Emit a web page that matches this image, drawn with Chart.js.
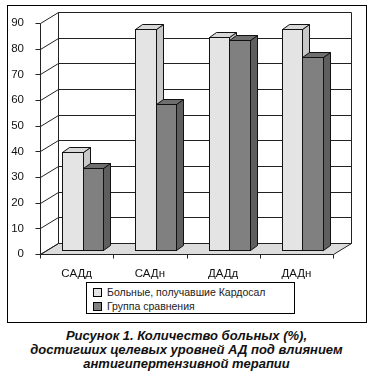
<!DOCTYPE html>
<html>
<head>
<meta charset="utf-8">
<script src="https://cdn.jsdelivr.net/npm/chart.js@4.4.0/dist/chart.umd.min.js"></script>
<style>
  body { margin: 0; background: #fff; width: 373px; height: 374px; position: relative; overflow: hidden; font-family: "Liberation Sans", Arial, sans-serif; }
  #frame { position: absolute; left: 7px; top: 5px; width: 358px; height: 316px; border: 1px solid #000; }
  #chart { position: absolute; left: 0; top: 0; }
  #legend { position: absolute; left: 86px; top: 282px; width: 207px; height: 30px; border: 1px solid #000; font-size: 10.5px; color: #222; }
  #legend div { position: absolute; left: 6px; height: 12px; line-height: 12px; white-space: nowrap; }
  #legend span { display: inline-block; width: 9px; height: 9px; border: 1px solid #000; box-sizing: border-box; vertical-align: -1px; margin-right: 5px; }
  #caption { position: absolute; left: 0; top: 329px; width: 373px; text-align: center; font: italic bold 13px/14px "Liberation Sans", Arial, sans-serif; color: #111; }
</style>
</head>
<body>
<div id="frame"></div>
<canvas id="chart" width="373" height="280"></canvas>
<div id="legend"></div>
<div id="caption">Рисунок 1. Количество больных (%),<br>достигших целевых уровней АД под влиянием<br>антигипертензивной терапии</div>
<script>
// ---- Data ----
const categories = ['САДд', 'САДн', 'ДАДд', 'ДАДн'];
const kardosal = [38, 86, 83, 86];
const comparison = [32, 57, 82, 75];
const seriesNames = ['Больные, получавшие Кардосал', 'Группа сравнения'];
const yTicks = [0, 10, 20, 30, 40, 50, 60, 70, 80, 90];

// front / top / side shades per series
const shades = [
  { front: '#e4e4e4', top: '#d8d8d8', side: '#c8c8c8' },
  { front: '#808080', top: '#6e6e6e', side: '#5e5e5e' }
];
const DEPTH = { x: 18, y: -11 };   // wall depth
const BAR_OFF = { x: 6, y: -4 };   // bars sit mid-depth
const BAR_D = { x: 7, y: -5 };     // bar thickness

// ---- 3D walls, floor, gridlines ----
const walls3d = {
  id: 'walls3d',
  beforeDatasetsDraw(chart) {
    const { ctx, chartArea: a, scales: { y } } = chart;
    ctx.save();
    ctx.lineWidth = 1;
    ctx.strokeStyle = '#222';
    const L = Math.round(a.left) + 0.5, R = Math.round(a.right) + 0.5;
    const B = Math.round(y.getPixelForValue(0)) + 0.5, T = Math.round(y.getPixelForValue(90)) + 0.5;
    // floor
    ctx.fillStyle = '#dcdcdc';
    ctx.beginPath();
    ctx.moveTo(L, B); ctx.lineTo(R, B); ctx.lineTo(R + DEPTH.x, B + DEPTH.y); ctx.lineTo(L + DEPTH.x, B + DEPTH.y); ctx.closePath();
    ctx.fill(); ctx.stroke();
    // back wall edges
    ctx.beginPath();
    ctx.moveTo(L + DEPTH.x, B + DEPTH.y); ctx.lineTo(L + DEPTH.x, T + DEPTH.y);
    ctx.moveTo(R + DEPTH.x, B + DEPTH.y); ctx.lineTo(R + DEPTH.x, T + DEPTH.y);
    ctx.stroke();
    // gridlines
    yTicks.forEach(v => {
      const py = Math.round(y.getPixelForValue(v)) + 0.5;
      ctx.beginPath();
      ctx.moveTo(L - 5, py); ctx.lineTo(L, py);
      ctx.lineTo(L + DEPTH.x, py + DEPTH.y);
      ctx.lineTo(R + DEPTH.x, py + DEPTH.y);
      ctx.stroke();
    });
    // front axis line
    ctx.beginPath();
    ctx.moveTo(L, T); ctx.lineTo(L, B);
    ctx.stroke();
    // x ticks at category boundaries
    ctx.beginPath();
    for (let i = 0; i <= categories.length; i++) {
      const px = Math.round(a.left + (a.right - a.left) * i / categories.length) + 0.5;
      ctx.moveTo(px, B); ctx.lineTo(px, B + 4);
    }
    ctx.stroke();
    ctx.restore();
  },
  afterDatasetsDraw(chart) {
    const { ctx } = chart;
    ctx.save();
    ctx.translate(BAR_OFF.x, BAR_OFF.y);
    ctx.lineWidth = 1;
    ctx.strokeStyle = '#111';
    chart.data.datasets.forEach((ds, di) => {
      const meta = chart.getDatasetMeta(di);
      const s = shades[di];
      meta.data.forEach(bar => {
        const l = Math.round(bar.x - bar.width / 2) + 0.5;
        const r = Math.round(bar.x + bar.width / 2) + 0.5;
        const t = Math.round(bar.y) + 0.5;
        const b = Math.round(bar.base) + 0.5;
        // side
        ctx.fillStyle = s.side;
        ctx.beginPath();
        ctx.moveTo(r, b); ctx.lineTo(r + BAR_D.x, b + BAR_D.y); ctx.lineTo(r + BAR_D.x, t + BAR_D.y); ctx.lineTo(r, t); ctx.closePath();
        ctx.fill(); ctx.stroke();
        // top
        ctx.fillStyle = s.top;
        ctx.beginPath();
        ctx.moveTo(l, t); ctx.lineTo(l + BAR_D.x, t + BAR_D.y); ctx.lineTo(r + BAR_D.x, t + BAR_D.y); ctx.lineTo(r, t); ctx.closePath();
        ctx.fill(); ctx.stroke();
        // front
        ctx.fillStyle = s.front;
        ctx.fillRect(l, t, r - l, b - t);
        ctx.strokeRect(l, t, r - l, b - t);
      });
    });
    ctx.restore();
  }
};

const chart = new Chart(document.getElementById('chart'), {
  type: 'bar',
  data: {
    labels: categories,
    datasets: [
      { label: seriesNames[0], data: kardosal, backgroundColor: 'rgba(0,0,0,0)', borderWidth: 0 },
      { label: seriesNames[1], data: comparison, backgroundColor: 'rgba(0,0,0,0)', borderWidth: 0 }
    ]
  },
  options: {
    responsive: false,
    animation: false,
    devicePixelRatio: 1,
    layout: { padding: { top: 23, right: 40, left: 0, bottom: 0 } },
    datasets: { bar: { barPercentage: 1, categoryPercentage: 0.56 } },
    scales: {
      x: {
        grid: { display: false },
        border: { display: false },
        ticks: { color: '#111', font: { family: 'Liberation Sans', size: 11.5 }, padding: 5, maxRotation: 0 },
        afterFit: s => { s.height = 26; }
      },
      y: {
        min: 0, max: 90,
        grid: { display: false },
        border: { display: false },
        ticks: { stepSize: 10, color: '#111', font: { family: 'Liberation Sans', size: 11.5 }, padding: 8 },
        afterFit: s => { s.width = 40; }
      }
    },
    plugins: {
      legend: { display: false },
      tooltip: { enabled: false }
    }
  },
  plugins: [walls3d]
});

// ---- Legend ----
const legendEl = document.getElementById('legend');
seriesNames.forEach((name, i) => {
  const row = document.createElement('div');
  row.style.top = (i === 0 ? 3 : 17) + 'px';
  const sw = document.createElement('span');
  sw.style.background = shades[i].front;
  row.append(sw, document.createTextNode(name));
  legendEl.appendChild(row);
});
</script>
</body>
</html>
